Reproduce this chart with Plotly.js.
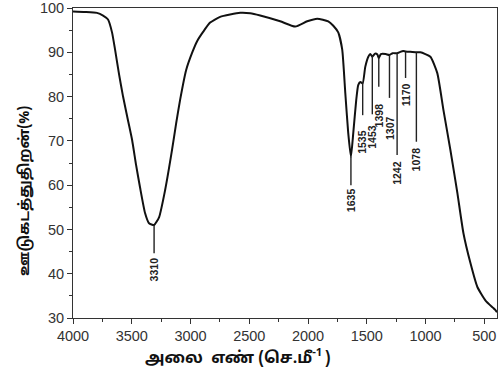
<!DOCTYPE html>
<html>
<head>
<meta charset="utf-8">
<script src="https://cdn.plot.ly/plotly-3.0.1.min.js"></script>
<style>html,body{margin:0;padding:0;background:#fff;}#chart{width:501px;height:381px;}</style>
</head>
<body>
<div id="chart"></div>
<script>
// Spectrum (wavenumber cm-1, transmittance %)
var wavenumber = [4000, 3898, 3796, 3744, 3702, 3668, 3642, 3608, 3574, 3531, 3497, 3463, 3429, 3387, 3353, 3310,
  3267, 3216, 3157, 3122, 3089, 3037, 2986, 2944, 2893, 2833, 2748, 2578, 2492, 2407, 2237, 2109, 2007, 1922, 1828,
  1785, 1743, 1709, 1683, 1658, 1635, 1615, 1590, 1573, 1555, 1535, 1513, 1487, 1470, 1453, 1430, 1410, 1398, 1380,
  1340, 1307, 1280, 1242, 1215, 1190, 1170, 1130, 1078, 1044, 959, 900, 848, 789, 729, 678, 618, 559, 491, 430, 405, 392];
var transmittance = [99.2, 99.1, 98.9, 98.3, 97.4, 94.5, 90.6, 85.0, 80.0, 74.5, 70.2, 64.5, 59.4, 53.7, 51.4, 51.0,
  52.8, 58.9, 68.0, 74.0, 79.2, 86.0, 89.9, 92.5, 94.6, 96.7, 98.0, 98.9, 98.8, 98.3, 97.0, 95.8, 97.0, 97.6, 97.0,
  96.0, 94.5, 90.6, 80.8, 71.8, 66.4, 71.8, 79.2, 82.6, 83.3, 83.0, 86.7, 89.0, 89.6, 89.0, 89.7, 89.5, 88.7, 89.6,
  89.6, 89.4, 89.8, 89.8, 90.1, 90.3, 90.2, 90.1, 90.0, 90.0, 89.0, 85.3, 77.0, 68.0, 58.2, 49.2, 42.4, 37.0, 34.0, 32.4, 31.8, 31.3];

// Peak annotations
var peakLabels = ["3310", "1635", "1535", "1453", "1398", "1307", "1242", "1170", "1078"];
var peakX      = [3310, 1635, 1535, 1453, 1398, 1307, 1242, 1170, 1078];
var lineTop    = [51.0, 66.4, 83.3, 89.3, 88.8, 89.4, 89.8, 90.2, 90.0];
var lineBottom = [44.6, 60.0, 75.8, 76.0, 82.2, 79.7, 66.8, 84.2, 69.8];
var labelY     = [41.0, 56.6, 69.7, 71.0, 75.7, 73.0, 62.8, 80.4, 65.9];

var xTicks = [4000, 3500, 3000, 2500, 2000, 1500, 1000, 500];
var yTicks = [30, 40, 50, 60, 70, 80, 90, 100];
var xTitle = 'அலை  எண் (செ.மீ<sup>-1 </sup>)';
var yTitle = 'ஊடுகடத்துதிறன்(%)';

var shapes = [], annotations = [];
for (var i = 0; i < peakX.length; i++) {
  shapes.push({type: 'line', xref: 'x', yref: 'y', x0: peakX[i], x1: peakX[i], y0: lineTop[i], y1: lineBottom[i],
    line: {color: '#222', width: 1.4}});
  annotations.push({xref: 'x', yref: 'y', x: peakX[i], y: labelY[i], text: peakLabels[i], showarrow: false,
    textangle: -90, font: {family: 'Liberation Sans Narrow, Liberation Sans, Arial, sans-serif', size: 10.5, color: '#222', weight: 'bold'}});
}

var tamilFont = '"Noto Sans Tamil", "Lohit Tamil", "Noto Sans", "DejaVu Sans", sans-serif';
annotations.push({xref: 'paper', yref: 'paper', x: 0.39, y: -0.126, xanchor: 'center', yanchor: 'middle',
  text: '<b>' + xTitle + '</b>', showarrow: false, font: {family: tamilFont, size: 16, color: '#111'}});
annotations.push({xref: 'paper', yref: 'paper', x: -0.113, y: 0.41, xanchor: 'center', yanchor: 'middle',
  text: '<b>' + yTitle + '</b>', showarrow: false, textangle: -90, font: {family: tamilFont, size: 14.5, color: '#111'}});

var data = [{
  x: wavenumber, y: transmittance, type: 'scatter', mode: 'lines',
  line: {color: '#111', width: 2, shape: 'spline', smoothing: 0.5},
  hoverinfo: 'skip'
}];

var layout = {
  width: 501, height: 381,
  margin: {l: 73, r: 4, t: 8, b: 63},
  paper_bgcolor: '#fff', plot_bgcolor: '#fff',
  showlegend: false,
  font: {family: 'Liberation Sans, Arial, sans-serif', color: '#222'},
  xaxis: {
    range: [4000, 392], tickvals: xTicks, ticktext: xTicks.map(String),
    ticks: 'outside', ticklen: 5, tickwidth: 1, tickcolor: '#333',
    minor: {dtick: 250, tick0: 0, ticks: 'outside', ticklen: 3, tickcolor: '#333'},
    showline: true, linecolor: '#333', linewidth: 1, mirror: true,
    showgrid: false, zeroline: false,
    tickfont: {size: 14.5, color: '#333'}
  },
  yaxis: {
    range: [30, 100], tickvals: yTicks, ticktext: yTicks.map(String),
    ticks: 'outside', ticklen: 5, tickwidth: 1, tickcolor: '#333',
    minor: {dtick: 5, tick0: 0, ticks: 'outside', ticklen: 3, tickcolor: '#333'},
    showline: true, linecolor: '#333', linewidth: 1, mirror: true,
    showgrid: false, zeroline: false,
    tickfont: {size: 14.5, color: '#333'}
  },
  shapes: shapes,
  annotations: annotations
};

Plotly.newPlot('chart', data, layout, {displayModeBar: false, staticPlot: true});
</script>
</body>
</html>
